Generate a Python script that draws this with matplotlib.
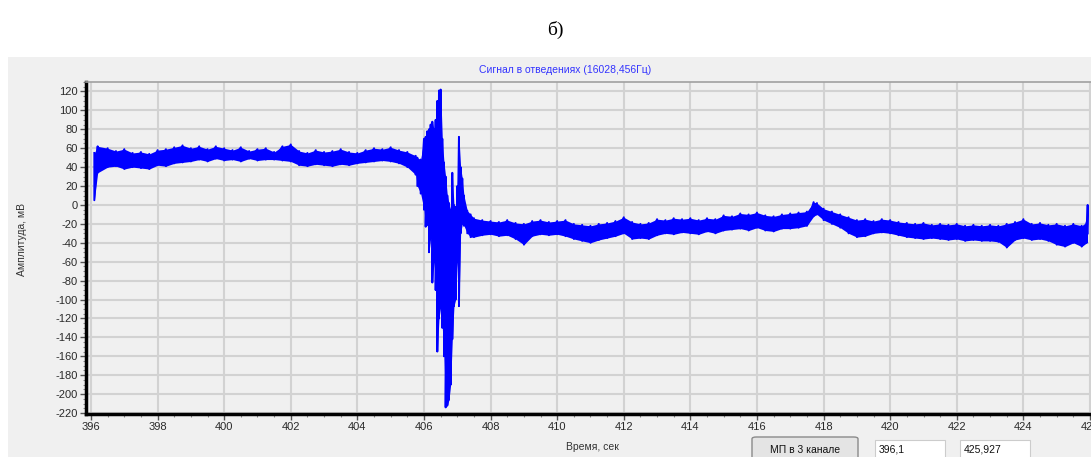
import matplotlib.pyplot as plt
import numpy as np
from matplotlib.patches import Rectangle, FancyBboxPatch
from matplotlib.ticker import MultipleLocator

plt.rcParams['font.family'] = ['Liberation Sans', 'DejaVu Sans']
plt.rcParams['axes.unicode_minus'] = False

# signal envelope: time (s), upper and lower edge (mV)
t = [396.1, 396.2, 396.5, 396.75, 397.0, 397.25, 397.5, 397.75, 398.0, 398.25,
     398.5, 398.75, 399.0, 399.25, 399.5, 399.75, 400.0, 400.25, 400.5, 400.75,
     401.0, 401.25, 401.5, 401.75, 402.0, 402.25, 402.5, 402.75, 403.0, 403.25,
     403.5, 403.75, 404.0, 404.25, 404.5, 404.75, 405.0, 405.25, 405.5, 405.75,
     405.8, 405.9, 406.0, 406.05, 406.1, 406.15, 406.2, 406.25, 406.3, 406.35,
     406.4, 406.45, 406.5, 406.55, 406.6, 406.65, 406.7, 406.75, 406.8, 406.85,
     406.9, 406.95, 407.0, 407.05, 407.1, 407.15, 407.2, 407.3, 407.4, 407.5,
     407.75, 408.0, 408.25, 408.5, 408.75, 409.0, 409.25, 409.5, 409.75, 410.0,
     410.25, 410.5, 410.75, 411.0, 411.25, 411.5, 411.75, 412.0, 412.25, 412.5,
     412.75, 413.0, 413.25, 413.5, 413.75, 414.0, 414.25, 414.5, 414.75, 415.0,
     415.25, 415.5, 415.75, 416.0, 416.25, 416.5, 416.75, 417.0, 417.25, 417.5,
     417.7, 417.8, 418.0, 418.25, 418.5, 418.75, 419.0, 419.25, 419.5, 419.75,
     420.0, 420.25, 420.5, 420.75, 421.0, 421.25, 421.5, 421.75, 422.0, 422.25,
     422.5, 422.75, 423.0, 423.25, 423.5, 423.75, 424.0, 424.25, 424.5, 424.75,
     425.0, 425.25, 425.5, 425.75, 425.9, 425.93]
hi = [55, 62, 60, 57, 59, 55, 56, 54, 58, 59,
      61, 63, 60, 62, 59, 62, 60, 58, 61, 57,
      59, 60, 56, 62, 64, 57, 55, 58, 56, 57,
      59, 56, 55, 58, 60, 59, 61, 58, 56, 52,
      50, 48, 70, 72, 78, 80, 85, 88, 80, 90,
      110, 121, 122, 70, 45, 30, 10, 2, -5, 34,
      0, -2, 20, 72, 40, 28, 10, -6, -10, -14,
      -16, -17, -18, -16, -19, -20, -17, -16, -18, -17,
      -16, -20, -21, -22, -20, -19, -17, -13, -18, -20,
      -19, -15, -16, -14, -15, -14, -16, -14, -15, -11,
      -12, -9, -10, -8, -11, -12, -10, -9, -8, -7,
      3, 2, -4, -7, -10, -13, -16, -15, -17, -15,
      -16, -18, -19, -20, -19, -21, -20, -21, -20, -22,
      -21, -22, -21, -22, -20, -18, -15, -20, -19, -21,
      -20, -22, -20, -22, -18, 0]
lo = [5, 34, 40, 41, 38, 40, 39, 38, 42, 41,
      44, 45, 46, 48, 46, 49, 47, 48, 46, 49,
      47, 48, 48, 47, 46, 42, 41, 43, 42, 41,
      43, 42, 44, 45, 46, 47, 46, 44, 40, 32,
      20, 12, -5, -23, -21, -50, -35, -82, -60, -90,
      -155, -120, -108, -130, -160, -214, -212, -206, -190, -142,
      -107, -100, -60, -107, -30, -20, -22, -30, -34, -34,
      -32, -31, -33, -32, -36, -42, -33, -31, -32, -31,
      -33, -36, -38, -40, -37, -35, -33, -30, -36, -35,
      -36, -32, -30, -31, -29, -30, -31, -28, -30, -27,
      -26, -25, -27, -24, -27, -28, -25, -25, -24, -22,
      -12, -10, -16, -20, -24, -30, -34, -33, -30, -29,
      -30, -32, -34, -35, -36, -35, -36, -37, -36, -38,
      -37, -38, -38, -39, -45, -37, -35, -37, -36, -38,
      -42, -44, -40, -44, -40, -30]

x_ticks = list(range(396, 428, 2))
y_ticks = list(range(-220, 140, 20))

W, H = 1091, 457
fig = plt.figure(figsize=(W / 100, H / 100), dpi=100)


def fx(px):
    return px / W


def fy(py):
    return 1 - py / H


# grey window panel (behind the axes)
fig.patches.append(Rectangle((fx(8), 0), 1 - fx(8), fy(57), transform=fig.transFigure,
                             facecolor='#f0f0f0', edgecolor='none', zorder=-5))

ax = fig.add_axes([fx(86), fy(414), 1 - fx(86), fy(82) - fy(414)])
ax.set_zorder(1)
ax.set_facecolor('#f0f0f0')

# zigzag between upper and lower edge
tt = np.repeat(t, 2)
yy = np.ravel(np.column_stack([hi, lo]))
ax.fill_between(t, lo, hi, color='#0000ff', lw=0, zorder=3)
ax.plot(tt, yy, color='#0000ff', lw=1.4, zorder=3)

ax.set_xlim(395.85, 426.03)
ax.set_ylim(-221, 130)
ax.set_xticks(x_ticks)
ax.set_yticks(y_ticks)
ax.xaxis.set_minor_locator(MultipleLocator(0.5))
ax.yaxis.set_minor_locator(MultipleLocator(5))
ax.grid(True, which='major', color='#d2d2d2', lw=1.5, zorder=1)
ax.set_axisbelow(True)
ax.tick_params(which='major', length=4, width=1, color='#555555', labelsize=8,
               labelcolor='#2a2a2a', pad=2)
ax.tick_params(which='minor', length=2, width=0.8, color='#888888')

ax.spines['right'].set_visible(False)
ax.spines['top'].set_color('#a0a0a0')
ax.spines['top'].set_linewidth(1.2)
ax.spines['left'].set_linewidth(2.5)
ax.spines['bottom'].set_linewidth(2.5)

fig.text(fx(555), fy(30), 'б)', ha='center', va='center', fontsize=14,
         family=['Liberation Serif', 'DejaVu Serif'])
fig.text(fx(565), fy(70), 'Сигнал в отведениях (16028,456Гц)', ha='center', va='center',
         fontsize=7.5, color='#3333ff')
fig.text(fx(22), fy(240), 'Амплитуда, мВ', ha='center', va='center', rotation=90,
         fontsize=7.5, color='#333333')
fig.text(fx(592), fy(447), 'Время, сек', ha='center', va='center', fontsize=7.5,
         color='#333333')

# button and text boxes of the window
fig.patches.append(FancyBboxPatch((fx(752), fy(460)), fx(106), fy(437) - fy(460),
                                  boxstyle='round,pad=0,rounding_size=0.004',
                                  transform=fig.transFigure, facecolor='#e4e4e4',
                                  edgecolor='#8a8a8a', lw=1, zorder=5))
fig.text(fx(805), fy(450), 'МП в 3 канале', ha='center', va='center', fontsize=7.5,
         color='#111111', zorder=6)
for x0, w, label in [(875, 70, '396,1'), (960, 70, '425,927')]:
    fig.patches.append(Rectangle((fx(x0), fy(460)), fx(w), fy(440) - fy(460),
                                 transform=fig.transFigure, facecolor='white',
                                 edgecolor='#cccccc', lw=0.8, zorder=5))
    fig.text(fx(x0 + 4), fy(450), label, ha='left', va='center', fontsize=7.5,
             color='#111111', zorder=6)

fig.savefig('out.png', dpi=100)
